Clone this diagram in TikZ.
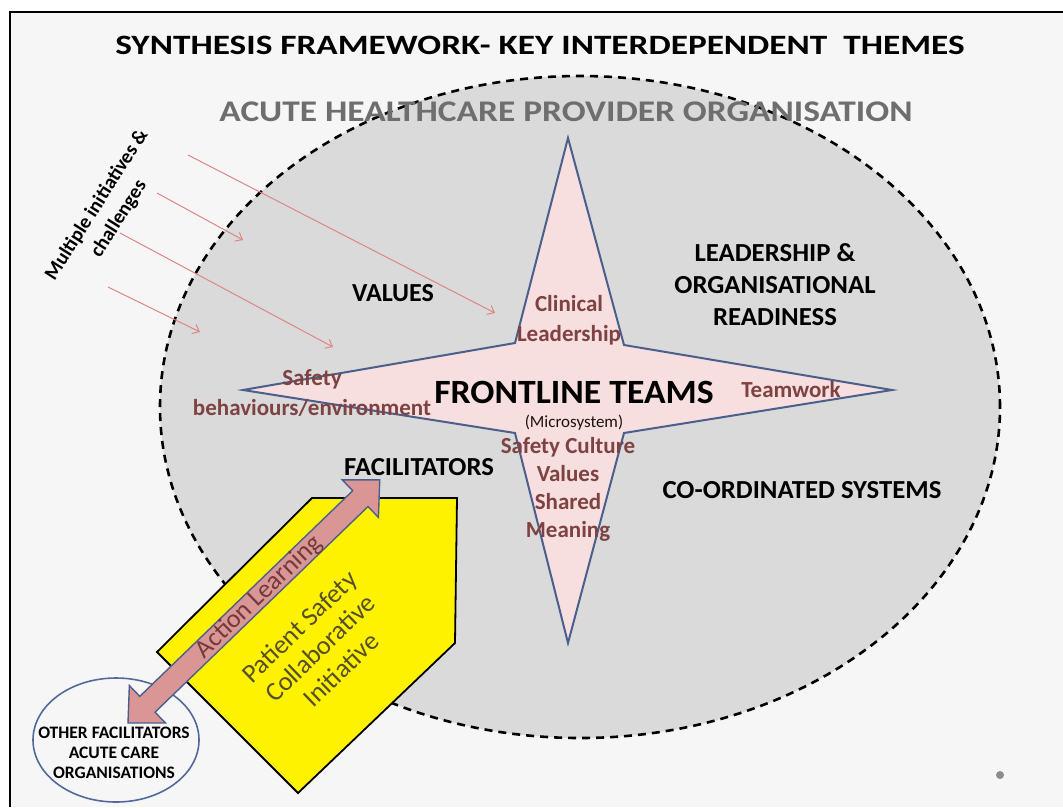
\documentclass[tikz,border=0pt]{standalone}
\usepackage{fontspec}
\setmainfont{Carlito}
\usetikzlibrary{arrows.meta,shapes.geometric}
\definecolor{bgc}{HTML}{F6F6F6}
\definecolor{ellfill}{HTML}{DADADA}
\definecolor{starfill}{HTML}{F6DFDE}
\definecolor{starline}{HTML}{4B5F8C}
\definecolor{maroonc}{HTML}{7E4242}
\definecolor{redarrow}{HTML}{DE8585}
\definecolor{pinkarrow}{HTML}{D99694}
\definecolor{acutegray}{HTML}{6E6E6E}
\definecolor{yellowtext}{HTML}{55502A}
\definecolor{circline}{HTML}{52699A}
\tikzset{
  blk/.style={text=black, inner sep=0pt, align=center},
  starlbl/.style={text=maroonc, inner sep=0pt, align=center},
  initarrow/.style={redarrow, line width=1pt, -{Straight Barb[length=6pt,width=10pt]}},
}
\begin{document}
\begin{tikzpicture}[x=1pt,y=-1pt]
\useasboundingbox (0,0) rectangle (1063,807);
\fill[bgc] (10,12) rectangle (1063,807);
\draw[line width=1.6pt] (10,807) -- (10,12) -- (1063,12);

% organisation ellipse
\node[ellipse, draw=black, fill=ellfill, line width=2.6pt, dash pattern=on 8pt off 6pt,
      minimum width=840pt, minimum height=662pt, inner sep=0pt] (org) at (580,407) {};

% title texts
\node[blk, xscale=1.26, font=\bfseries\fontsize{28}{32}\selectfont] (title) at (540,45) {SYNTHESIS FRAMEWORK- KEY INTERDEPENDENT\ \ THEMES};
\node[blk, xscale=1.18, text=acutegray, font=\bfseries\fontsize{30}{34}\selectfont] (acute) at (566,112) {ACUTE HEALTHCARE PROVIDER ORGANISATION};

% star
\coordinate (sT) at (568,138);
\coordinate (sR) at (892,390);
\coordinate (sB) at (568,643);
\coordinate (sL) at (243,390);
\coordinate (iUR) at (624,345);
\coordinate (iLR) at (624,433);
\coordinate (iLL) at (515,433);
\coordinate (iUL) at (515,343);
\draw[starline, fill=starfill, line width=2pt, line join=miter]
  (sT) -- (iUR) -- (sR) -- (iLR) -- (sB) -- (iLL) -- (sL) -- (iUL) -- cycle;

% theme labels
\node[blk, font=\bfseries\fontsize{26}{30}\selectfont] (values) at (393,293) {VALUES};
\node[blk, xscale=1.03, font=\bfseries\fontsize{26}{32}\selectfont] (lead) at (775,285) {LEADERSHIP \&\\ORGANISATIONAL\\READINESS};
\node[blk, xscale=1.03, font=\bfseries\fontsize{26}{30}\selectfont] (coord) at (802,490) {CO-ORDINATED SYSTEMS};
\node[blk, xscale=1.03, font=\bfseries\fontsize{26}{30}\selectfont] (facil) at (419,467) {FACILITATORS};
\node[blk, xscale=1.05, font=\bfseries\fontsize{34}{38}\selectfont] (front) at (574,392) {FRONTLINE TEAMS};
\node[blk, text=black!75!maroonc, font=\fontsize{17}{20}\selectfont] (micro) at (574,423) {(Microsystem)};

% star labels
\node[starlbl, font=\bfseries\fontsize{23}{30}\selectfont] (clin) at (569,320) {Clinical\\Leadership};
\node[starlbl, font=\bfseries\fontsize{23}{30}\selectfont] (safeb) at (312,393) {Safety\\behaviours/environment};
\node[starlbl, font=\bfseries\fontsize{23}{26}\selectfont] (team) at (791,390) {Teamwork};
\node[starlbl, font=\bfseries\fontsize{23}{28}\selectfont] (culture) at (568,489) {Safety Culture\\Values\\Shared\\Meaning};

% multiple initiatives
\node[blk, rotate=57.6, font=\bfseries\fontsize{20}{26}\selectfont] (multi) at (108,212) {Multiple initiatives \&\\challenges};
\coordinate (a1s) at (188,155); \coordinate (a1e) at (495,313);
\coordinate (a2s) at (157,193); \coordinate (a2e) at (243,240);
\coordinate (a3s) at (120,233); \coordinate (a3e) at (333,347);
\coordinate (a4s) at (108,287); \coordinate (a4e) at (200,332);
\draw[initarrow] (a1s) -- (a1e);
\draw[initarrow] (a2s) -- (a2e);
\draw[initarrow] (a3s) -- (a3e);
\draw[initarrow] (a4s) -- (a4e);

% other facilitators ellipse
\node[ellipse, draw=circline, fill=bgc, line width=1.6pt, minimum width=166pt, minimum height=124pt, inner sep=0pt] (other) at (116,740) {};
\node[blk, font=\bfseries\fontsize{17.5}{20}\selectfont] (othertxt) at (114,753) {OTHER FACILITATORS\\ACUTE CARE\\ORGANISATIONS};

% yellow collaborative initiative shape
\draw[fill=yellow, line width=1.8pt, line join=miter] (312,498) -- (457,498) -- (455,643) -- (298,793) -- (157,652) -- cycle;
\node[blk, text=yellowtext, rotate=44, font=\fontsize{26.5}{30}\selectfont] (psci) at (320,648) {Patient Safety\\Collaborative\\Initiative};

% double arrow (action learning)
\begin{scope}[shift={(128,723)}, rotate=44]
\draw[fill=pinkarrow, draw=starline, line width=1.4pt, line join=miter]
  (0,0) -- (27,26) -- (27,11) -- (323,11) -- (323,26) -- (350,0) -- (323,-26) -- (323,-11) -- (27,-11) -- (27,-26) -- cycle;
\end{scope}
\node[blk, text=maroonc!90!black, rotate=44, font=\fontsize{26}{28}\selectfont] (action) at (259,597) {Action Learning};

% dot
\fill[black!45] (1000,775) circle (4pt);
\end{tikzpicture}
\end{document}
